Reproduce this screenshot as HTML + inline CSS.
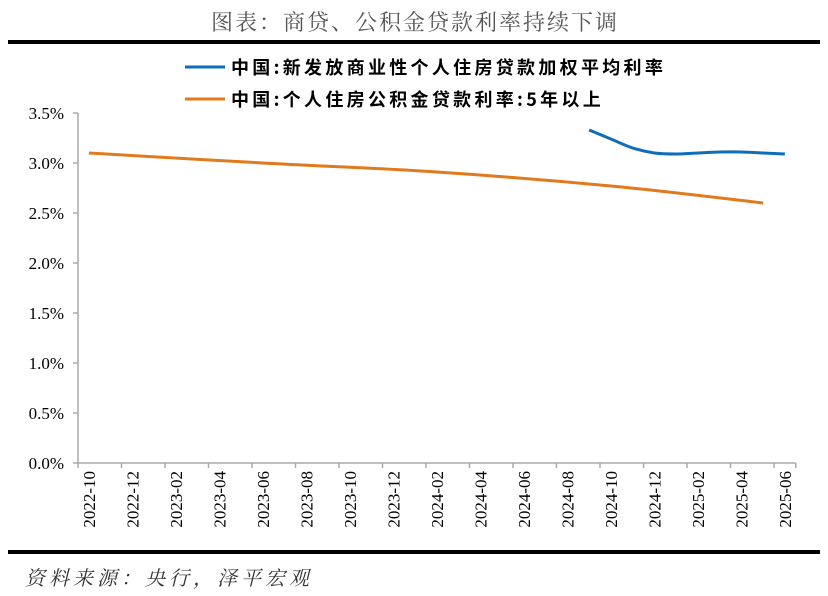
<!DOCTYPE html>
<html><head><meta charset="utf-8"><style>
body{margin:0;background:#fff;}
svg{display:block;font-family:"Liberation Serif","Noto Serif CJK SC",serif;}
</style></head><body>
<svg id="c" width="828" height="596" viewBox="0 0 828 596">
<text x="415" y="30" text-anchor="middle" font-size="22" letter-spacing="2" fill="#555" font-family="'Noto Serif CJK SC',serif">图表：商贷、公积金贷款利率持续下调</text>
<rect x="8" y="40" width="812" height="4" fill="#000"/>
<rect x="8" y="550" width="812" height="4" fill="#000"/>
<g>
<line x1="185" y1="67" x2="225" y2="67" stroke="#0F6EB8" stroke-width="3"/>
<text x="231" y="74" font-size="18" letter-spacing="3.3" font-weight="bold" font-family="'Noto Sans CJK SC',sans-serif">中国:新发放商业性个人住房贷款加权平均利率</text>
<line x1="185" y1="99" x2="225" y2="99" stroke="#E07A1C" stroke-width="3"/>
<text x="231" y="106" font-size="18" letter-spacing="3.3" font-weight="bold" font-family="'Noto Sans CJK SC',sans-serif">中国:个人住房公积金贷款利率:5年以上</text>
</g>
<g id="axes"></g>
<g id="marks"></g>
<text x="25" y="585" font-size="20" letter-spacing="4" font-style="italic" fill="#333">资料来源：央行，泽平宏观</text>
</svg>
<script>
const months=[];
for(let i=0;i<33;i++){const y=2022+Math.floor((9+i)/12),m=(9+i)%12+1;months.push(y+'-'+String(m).padStart(2,'0'));}
const yTicks=[0,0.5,1,1.5,2,2.5,3,3.5];
const fundMonths=['2022-10','2023-06','2024-02','2024-10','2025-05'];
const fundValues=[3.10,3.00,2.91,2.77,2.60];
const commMonths=['2024-09','2024-10','2024-11','2024-12','2025-01','2025-02','2025-03','2025-04','2025-05','2025-06'];
const commValues=[3.33,3.24,3.15,3.10,3.09,3.10,3.11,3.11,3.10,3.09];

const x0=78,bw=21.75,y0=463,yPer=100;
const X=m=>x0+(months.indexOf(m)+0.5)*bw;
const Y=v=>y0-v*yPer;
const NS='http://www.w3.org/2000/svg';
const axes=document.getElementById('axes'),marks=document.getElementById('marks');
function mk(tag,at,parent){const e=document.createElementNS(NS,tag);for(const k in at)e.setAttribute(k,at[k]);parent.appendChild(e);return e;}
let yl=mk('line',{x1:x0,y1:Y(3.5),x2:x0,y2:y0,stroke:'#aaa','stroke-width':1.5},axes);


let xl=mk('line',{x1:x0,y1:y0,x2:x0+33*bw,y2:y0,stroke:'#aaa','stroke-width':1.5},axes);


yTicks.forEach(v=>{
  mk('line',{x1:x0-5,y1:Y(v),x2:x0,y2:Y(v),stroke:'#aaa','stroke-width':1.5},axes);
  const t=mk('text',{x:64,y:Y(v)+6,'text-anchor':'end','font-size':17},axes);
  t.textContent=v.toFixed(1)+'%';
  
  
});
months.forEach((m,i)=>{
  if(i%2===0){
    mk('line',{x1:x0+i*bw,y1:y0,x2:x0+i*bw,y2:y0+5,stroke:'#aaa','stroke-width':1.5},axes);
    const cx=X(m)+6;
    const t=mk('text',{x:0,y:0,'text-anchor':'end','font-size':17,transform:`translate(${cx},${y0+8}) rotate(-90)`},axes);
    t.textContent=m;
    
    
  }
});
mk('line',{x1:x0+33*bw,y1:y0,x2:x0+33*bw,y2:y0+5,stroke:'#aaa','stroke-width':1.5},axes);
function smooth(pts){
  let d=`M${pts[0][0]},${pts[0][1]}`;
  for(let i=0;i<pts.length-1;i++){
    const p0=pts[i-1]||pts[i],p1=pts[i],p2=pts[i+1],p3=pts[i+2]||p2;
    const c1=[p1[0]+(p2[0]-p0[0])/6,p1[1]+(p2[1]-p0[1])/6],c2=[p2[0]-(p3[0]-p1[0])/6,p2[1]-(p3[1]-p1[1])/6];
    d+=` C${c1[0]},${c1[1]} ${c2[0]},${c2[1]} ${p2[0]},${p2[1]}`;
  }
  return d;
}
const fp=mk('path',{d:smooth(fundMonths.map((m,i)=>[X(m),Y(fundValues[i])])),fill:'none',stroke:'#E07A1C','stroke-width':3},marks);


const cp=mk('path',{d:smooth(commMonths.map((m,i)=>[X(m),Y(commValues[i])])),fill:'none',stroke:'#0F6EB8','stroke-width':3},marks);


</script>
</body></html>
